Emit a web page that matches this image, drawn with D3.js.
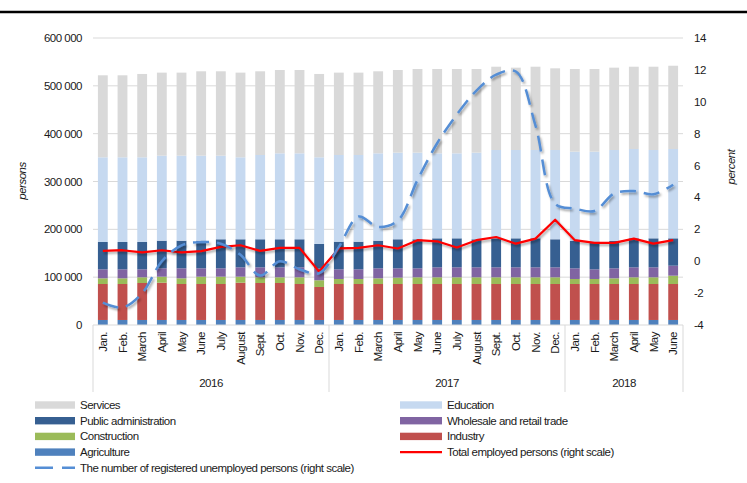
<!DOCTYPE html>
<html>
<head>
<meta charset="utf-8">
<script src="https://cdn.jsdelivr.net/npm/d3@7"></script>
<style>
  body { margin: 0; background: #fff; }
  svg text { font-family: "Liberation Sans", Arial, sans-serif; font-size: 11.5px; letter-spacing: -0.5px; fill: #1a1a1a; }
</style>
</head>
<body>
<svg id="chart" width="747" height="483"></svg>
<script>
// month labels (Jan 2016 .. June 2018)
var months = ["Jan.", "Feb.", "March", "April", "May", "June", "July", "August", "Sept.", "Oct.", "Nov.", "Dec.",
              "Jan.", "Feb.", "March", "April", "May", "June", "July", "August", "Sept.", "Oct.", "Nov.", "Dec.",
              "Jan.", "Feb.", "March", "April", "May", "June"];
var yearLabels = ["2016", "2017", "2018"];
var yearCounts = [12, 12, 6];

// employed persons by sector (stack from bottom)
var agriculture = [10500, 10500, 10500, 10500, 10500, 10500, 10500, 10500, 10500, 10500, 10500, 10500,
                   10500, 10500, 10500, 10500, 10500, 10500, 10500, 10500, 10500, 10500, 10500, 10500,
                   10500, 10500, 10500, 10500, 10500, 10500];
var industry = [75200, 75200, 77300, 77900, 75200, 75200, 75200, 77900, 77300, 77300, 75200, 69000,
                75200, 75200, 75200, 75200, 75200, 75200, 75200, 75200, 75200, 75200, 75200, 75200,
                75200, 75200, 75200, 75200, 75200, 75200];
var construction = [11900, 11900, 11900, 12600, 11900, 15300, 15300, 12600, 11900, 11900, 14000, 14000,
                    10500, 10500, 11900, 13300, 14000, 14000, 14000, 14000, 14000, 14000, 14000, 14000,
                    10500, 10500, 11900, 14000, 14000, 17400];
var wholesale = [18800, 18800, 16700, 17500, 20900, 17500, 17500, 19600, 20900, 20900, 20900, 24500,
                 20200, 20200, 20900, 19500, 18800, 20900, 20900, 20900, 20900, 20900, 20900, 20900,
                 22300, 20200, 20900, 20900, 20900, 20900];
var publicAdmin = [57100, 57100, 57100, 57800, 57800, 57800, 60700, 58600, 58600, 58600, 58600, 51400,
                   57800, 57800, 57800, 60700, 60700, 60600, 60600, 58600, 60600, 60600, 60600, 58600,
                   57100, 57800, 57100, 60600, 60600, 57200];
var education = [177100, 177100, 177100, 177700, 177700, 177700, 174800, 171400, 176200, 179700, 179700, 181200,
                 181200, 181200, 182600, 181100, 181100, 177700, 177700, 181100, 184700, 184700, 184700, 186700,
                 186800, 188200, 190300, 186800, 184700, 186800];
var services = [171400, 171400, 174200, 173600, 173600, 176400, 176400, 177000, 175000, 174200, 174200, 174200,
                172200, 172200, 171500, 172800, 174900, 176300, 176300, 174900, 174100, 172100, 174100, 170700,
                172800, 172800, 172100, 172000, 174100, 174000];

// right scale, percent
var unemployed = [-2.6, -2.9, -2.0, 0.0, 1.0, 1.2, 1.1, 0.4, -0.9, 0.0, -0.5, -0.75,
                  0.9, 2.8, 2.15, 2.55, 5.1, 7.4, 9.2, 10.7, 11.7, 11.9, 8.5, 3.6,
                  3.3, 3.15, 4.25, 4.4, 4.2, 4.8];
var totalEmployed = [0.65, 0.69, 0.56, 0.69, 0.56, 0.63, 0.9, 1.0, 0.65, 0.84, 0.84, -0.65,
                     0.8, 0.84, 1.0, 0.8, 1.32, 1.25, 0.86, 1.32, 1.52, 1.1, 1.42, 2.6,
                     1.32, 1.15, 1.15, 1.42, 1.1, 1.32];

var leftTicks = [0, 100000, 200000, 300000, 400000, 500000, 600000];
var rightTicks = [-4, -2, 0, 2, 4, 6, 8, 10, 12, 14];

var sectors = [
  { name: "Agriculture", values: agriculture, color: "#4f81bd" },
  { name: "Industry", values: industry, color: "#c0504d" },
  { name: "Construction", values: construction, color: "#9bbb59" },
  { name: "Wholesale and retail trade", values: wholesale, color: "#8064a2" },
  { name: "Public administration", values: publicAdmin, color: "#365f91" },
  { name: "Education", values: education, color: "#c6d9f0" },
  { name: "Services", values: services, color: "#d9d9d9" }
];

var svg = d3.select("#chart");
var plotLeft = 93, plotRight = 683, plotTop = 38, plotBottom = 325;

var x = d3.scaleBand().domain(d3.range(months.length)).range([plotLeft, plotRight])
    .paddingInner(0.5).paddingOuter(0.25);
var y = d3.scaleLinear().domain([0, 600000]).range([plotBottom, plotTop]);
var y2 = d3.scaleLinear().domain([-4, 14]).range([plotBottom, plotTop]);

var defs = svg.append("defs");
var f = defs.append("filter").attr("id", "shadow").attr("x", "-10%").attr("y", "-10%")
    .attr("width", "120%").attr("height", "130%");
f.append("feDropShadow").attr("dx", 1.5).attr("dy", 2).attr("stdDeviation", 1.3)
    .attr("flood-color", "#000").attr("flood-opacity", 0.35);

// top rule
svg.append("line").attr("x1", 0).attr("x2", 747).attr("y1", 12).attr("y2", 12)
    .attr("stroke", "#000").attr("stroke-width", 2.5);

// gridlines
svg.append("g").selectAll("line").data(leftTicks.slice(1)).enter().append("line")
    .attr("x1", plotLeft).attr("x2", plotRight)
    .attr("y1", function (d) { return y(d); }).attr("y2", function (d) { return y(d); })
    .attr("stroke", "#d9d9d9").attr("stroke-width", 1);

// stacked bars
var rows = months.map(function (m, i) {
  var r = { i: i };
  sectors.forEach(function (s) { r[s.name] = s.values[i]; });
  return r;
});
var stack = d3.stack().keys(sectors.map(function (s) { return s.name; }));
var layers = stack(rows);

svg.append("g").selectAll("g").data(layers).enter().append("g")
    .attr("fill", function (d, k) { return sectors[k].color; })
  .selectAll("rect").data(function (d) { return d; }).enter().append("rect")
    .attr("x", function (d) { return x(d.data.i); })
    .attr("width", x.bandwidth())
    .attr("y", function (d) { return y(d[1]); })
    .attr("height", function (d) { return y(d[0]) - y(d[1]); });

// axis line and year separators
svg.append("line").attr("x1", plotLeft).attr("x2", plotRight).attr("y1", plotBottom).attr("y2", plotBottom)
    .attr("stroke", "#d9d9d9");
var bounds = [0];
yearCounts.forEach(function (c) { bounds.push(bounds[bounds.length - 1] + c); });
svg.append("g").selectAll("line").data(bounds).enter().append("line")
    .attr("x1", function (b) { return plotLeft + b * x.step(); })
    .attr("x2", function (b) { return plotLeft + b * x.step(); })
    .attr("y1", plotBottom).attr("y2", 392)
    .attr("stroke", "#d9d9d9");

// lines on the right scale
var lineGen = function (vals, curve) {
  return d3.line()
    .x(function (d, i) { return x(i) + x.bandwidth() / 2; })
    .y(function (d) { return y2(d); })
    .curve(curve)(vals);
};
svg.append("path").attr("d", lineGen(totalEmployed, d3.curveLinear))
    .attr("fill", "none").attr("stroke", "#ff0000").attr("stroke-width", 2.2)
    .attr("stroke-linejoin", "round").attr("filter", "url(#shadow)");
svg.append("path").attr("d", lineGen(unemployed, d3.curveCatmullRom.alpha(0.5)))
    .attr("fill", "none").attr("stroke", "#558ed5").attr("stroke-width", 2.5)
    .attr("stroke-dasharray", "16,8").attr("filter", "url(#shadow)");

// left tick labels
svg.append("g").selectAll("text").data(leftTicks).enter().append("text")
    .attr("x", 82).attr("y", function (d) { return y(d); }).attr("dy", "0.35em")
    .attr("text-anchor", "end")
    .text(function (d) { return d3.format(",")(d).replace(/,/g, " "); });

// right tick labels
svg.append("g").selectAll("text").data(rightTicks).enter().append("text")
    .attr("x", 694).attr("y", function (d) { return y2(d); }).attr("dy", "0.35em")
    .text(function (d) { return d; });

// month labels
svg.append("g").selectAll("text").data(months).enter().append("text")
    .attr("transform", function (d, i) {
      return "translate(" + (x(i) + x.bandwidth() / 2) + "," + 332 + ") rotate(-90)";
    })
    .attr("text-anchor", "end").attr("dy", "0.35em")
    .text(function (d) { return d; });

// year labels
svg.append("g").selectAll("text").data(yearLabels).enter().append("text")
    .attr("x", function (d, k) { return plotLeft + (bounds[k] + bounds[k + 1]) / 2 * x.step(); })
    .attr("y", 387).attr("text-anchor", "middle")
    .text(function (d) { return d; });

// axis titles
svg.append("text").attr("transform", "translate(26,181) rotate(-90)")
    .attr("text-anchor", "middle").style("font-style", "italic").text("persons");
svg.append("text").attr("transform", "translate(735,167) rotate(-90)")
    .attr("text-anchor", "middle").style("font-style", "italic").text("percent");

// legend
var legendLeft = [
  { label: "Services", color: "#d9d9d9", type: "box" },
  { label: "Public administration", color: "#365f91", type: "box" },
  { label: "Construction", color: "#9bbb59", type: "box" },
  { label: "Agriculture", color: "#4f81bd", type: "box" },
  { label: "The number of registered unemployed persons (right scale)", color: "#558ed5", type: "dash" }
];
var legendRight = [
  { label: "Education", color: "#c6d9f0", type: "box" },
  { label: "Wholesale and retail trade", color: "#8064a2", type: "box" },
  { label: "Industry", color: "#c0504d", type: "box" },
  { label: "Total employed persons (right scale)", color: "#ff0000", type: "line" }
];

function drawLegend(items, x0, w) {
  var g = svg.append("g");
  items.forEach(function (it, k) {
    var cy = 405 + k * 15.7;
    if (it.type === "box") {
      g.append("rect").attr("x", x0).attr("y", cy - 3.7).attr("width", w).attr("height", 7.4)
          .attr("fill", it.color);
    } else if (it.type === "dash") {
      g.append("line").attr("x1", x0).attr("x2", x0 + w).attr("y1", cy).attr("y2", cy)
          .attr("stroke", it.color).attr("stroke-width", 2.5).attr("stroke-dasharray", "18,9");
    } else {
      g.append("line").attr("x1", x0).attr("x2", x0 + w).attr("y1", cy).attr("y2", cy)
          .attr("stroke", it.color).attr("stroke-width", 2.2);
    }
    g.append("text").attr("x", x0 + w + 5).attr("y", cy).attr("dy", "0.35em").text(it.label);
  });
}
drawLegend(legendLeft, 35, 40);
drawLegend(legendRight, 400, 42);
</script>
</body>
</html>
